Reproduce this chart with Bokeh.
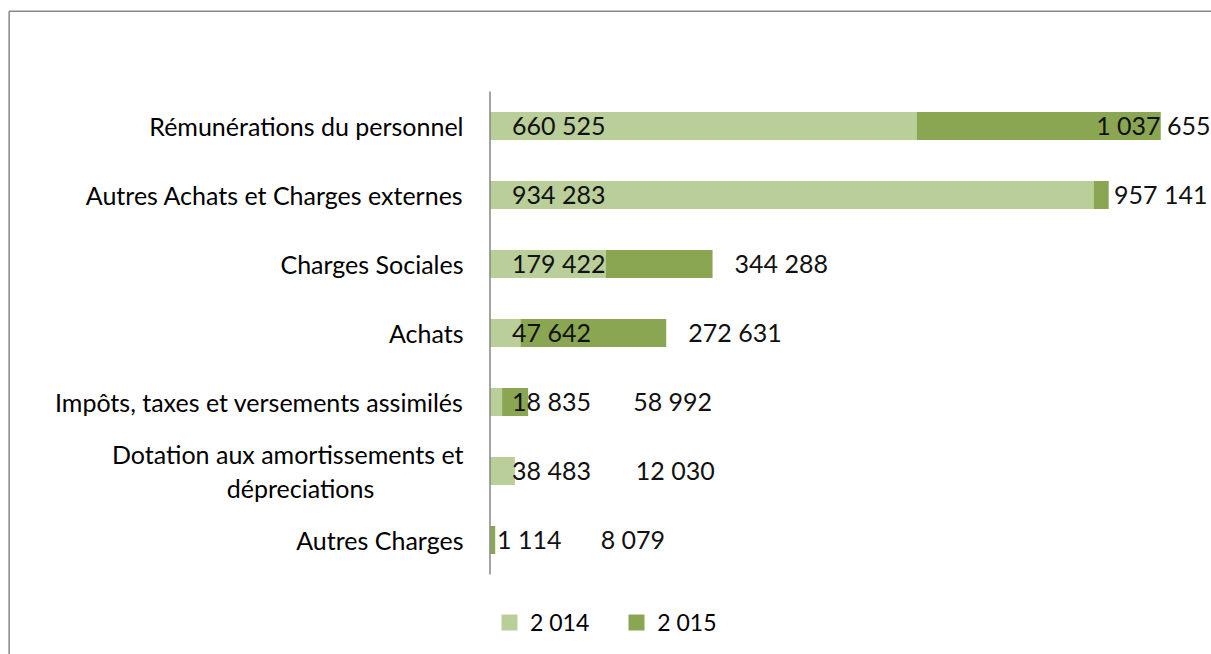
from bokeh.plotting import figure
from bokeh.models import Range1d, Legend, LegendItem
from bokeh.core.properties import value
from bokeh.embed import file_html
from bokeh.resources import INLINE

# ---------------- data ----------------
categories = [
    "Rémunérations du personnel",
    "Autres Achats et Charges externes",
    "Charges Sociales",
    "Achats",
    "Impôts, taxes et versements assimilés",
    "Dotation aux amortissements et\ndépreciations",
    "Autres Charges",
]
values_2014 = [660525, 934283, 179422, 47642, 18835, 38483, 1114]
values_2015 = [1037655, 957141, 344288, 272631, 58992, 12030, 8079]
series_names = ["2 014", "2 015"]

# ---------------- style / layout ----------------
W, H = 1211, 654
UPP = 1547.0               # data units per pixel
AXIS_PX = 489.5            # axis position in canvas px
CAT_PX = 69.0
TOP_PX = 91.0
LIGHT = "#B9CE98"
DARK = "#8BA652"
GREY = "#868686"
CAT_FONT = "Lato"
NUM_FONT = "Lato"

# label placement (px offsets; align per label)
off_2014 = [22, 22, 22, 22, 22, 22, 7]
off_2015 = [49.7, 98.8, 22, 22, 105, 138, 105.5]
align_2015 = ["right", "right", "left", "left", "left", "left", "left"]

def fmt(v):
    return f"{v:,}".replace(",", " ")

xs = -AXIS_PX * UPP
xe = xs + W * UPP
y_end = -TOP_PX / CAT_PX
y_start = (H - TOP_PX) / CAT_PX

p = figure(width=W, height=H, x_range=Range1d(xs, xe), y_range=Range1d(y_start, y_end),
           output_backend="svg", toolbar_location=None, min_border=0,
           x_axis_type=None, y_axis_type=None)
p.outline_line_color = None
p.background_fill_color = "white"
p.border_fill_color = "white"

n = len(categories)
ys = [i + 0.5 for i in range(n)]

r15 = p.hbar(y=ys, left=0, right=values_2015, height=0.406, fill_color=DARK, line_color=None)
r14 = p.hbar(y=ys, left=0, right=values_2014, height=0.406, fill_color=LIGHT, line_color=None)

# vertical category axis line
p.segment(x0=[0], y0=[0], x1=[0], y1=[n], line_color=GREY, line_width=1.5)

# chart border (top and left)
top_y = y_end + 10.7 / CAT_PX
left_x = xs + 8.65 * UPP
p.segment(x0=[left_x], y0=[top_y], x1=[xe], y1=[top_y], line_color=GREY, line_width=1.5)
p.segment(x0=[left_x], y0=[top_y], x1=[left_x], y1=[y_start], line_color=GREY, line_width=1.5)

# data labels
p.text(x=[0] * n, y=ys, text=[fmt(v) for v in values_2014], x_offset=off_2014,
       y_offset=-1.5, text_align="left", text_baseline="middle", text_font=value(NUM_FONT),
       text_font_size="25px", text_color="#111111")
for al in ("left", "right"):
    idx = [i for i in range(n) if align_2015[i] == al]
    p.text(x=[values_2015[i] for i in idx], y=[ys[i] for i in idx],
           text=[fmt(values_2015[i]) for i in idx], x_offset=[off_2015[i] for i in idx],
           y_offset=-1.5, text_align=al, text_baseline="middle", text_font=value(NUM_FONT),
           text_font_size="25px", text_color="#111111")

# category labels
single_y, single_t = [], []
for i, c in enumerate(categories):
    if "\n" in c:
        l1, l2 = c.split("\n")
        p.text(x=[0], y=[ys[i]], text=[l1], x_offset=-26.5, y_offset=-17,
               text_align="right", text_baseline="middle", text_font=value(CAT_FONT),
               text_font_size="25px", text_color="black")
        p.text(x=[0], y=[ys[i]], text=[l2], x_offset=-189.5, y_offset=17,
               text_align="center", text_baseline="middle", text_font=value(CAT_FONT),
               text_font_size="25px", text_color="black")
    else:
        single_y.append(ys[i])
        single_t.append(c)
p.text(x=[0] * len(single_y), y=single_y, text=single_t, x_offset=-26.5,
       text_align="right", text_baseline="middle", text_font=value(CAT_FONT),
       text_font_size="25px", text_color="black")

legend = Legend(items=[LegendItem(label=series_names[0], renderers=[r14]),
                       LegendItem(label=series_names[1], renderers=[r15])],
                orientation="horizontal", location=(499, 18),
                glyph_width=20, glyph_height=20, label_standoff=11, spacing=37,
                padding=0, margin=0, border_line_alpha=0, background_fill_alpha=0,
                label_text_font=CAT_FONT, label_text_font_size="23px",
                label_text_color="black")
p.add_layout(legend)

open("out.html", "w").write(file_html(p, INLINE))
